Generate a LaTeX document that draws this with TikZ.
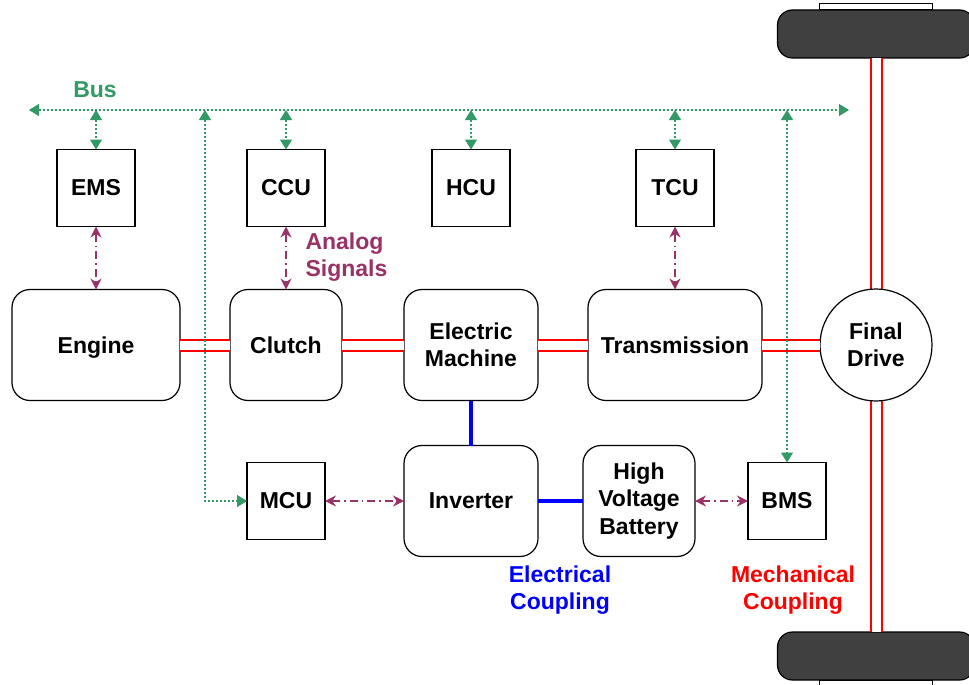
\documentclass[tikz,border=0pt]{standalone}
\usepackage{fontspec}
\setmainfont{Liberation Sans}
\usepackage{xcolor}
\usepackage{tikz}
\usetikzlibrary{positioning, arrows.meta}

\definecolor{busgreen}{RGB}{51,153,102}
\definecolor{signalpurple}{RGB}{153,51,102}
\definecolor{tyregray}{RGB}{64,64,64}

\begin{document}
\begin{tikzpicture}[
    x=1pt, y=-1pt,
    font=\fontsize{23}{27.5}\selectfont\bfseries,
    unit/.style={
        draw,
        line width=1.2pt,
        rounded corners=18pt,
        align=center,
        minimum height=111pt,
        inner sep=0pt,
        outer sep=0pt
    },
    ecu/.style={
        draw,
        line width=1.2pt,
        minimum width=78pt,
        minimum height=77pt,
        inner sep=0pt,
        outer sep=0pt
    },
    drive/.style={
        draw,
        circle,
        fill=white,
        line width=1.2pt,
        minimum size=112pt,
        inner sep=0pt,
        outer sep=0pt,
        align=center
    },
    tyre/.style={
        draw,
        line width=1.2pt,
        fill=tyregray,
        rounded corners=15pt,
        minimum width=197pt,
        minimum height=48pt,
        outer sep=0pt
    },
    rim/.style={
        draw,
        line width=1pt,
        fill=white,
        minimum width=113pt,
        minimum height=6pt,
        inner sep=0pt,
        outer sep=0pt
    },
    shaft/.style={
        draw=red,
        line width=2pt,
        double=white,
        double distance=9pt
    },
    elec/.style={
        draw=blue,
        line width=4pt
    },
    bus/.style={
        busgreen,
        line width=1.3pt,
        dash pattern=on 2pt off 2pt,
        {Triangle[length=10pt,width=12pt]}-{Triangle[length=10pt,width=12pt]}
    },
    analog/.style={
        signalpurple,
        line width=1.2pt,
        dash pattern=on 8pt off 4pt on 1.5pt off 4pt,
        {Stealth[length=11pt,width=11pt]}-{Stealth[length=11pt,width=11pt]}
    }
]
\useasboundingbox (0,0) rectangle (969,685);

% Powertrain row
\node[unit, minimum width=168pt, text depth=0pt] (engine) at (96,345) {Engine};
\node[unit, minimum width=112pt, right=50pt of engine] (clutch) {Clutch};
\node[unit, minimum width=134pt, right=62pt of clutch] (machine) {Electric\\Machine};
\node[unit, minimum width=174pt, right=50pt of machine] (transmission) {Transmission};

% Control units
\node[ecu, above=63pt of engine] (ems) {EMS};
\node[ecu, above=63pt of clutch] (ccu) {CCU};
\node[ecu, above=63pt of machine] (hcu) {HCU};
\node[ecu, above=63pt of transmission] (tcu) {TCU};

% Electrical branch
\node[unit, minimum width=134pt, below=45pt of machine] (inverter) {Inverter};
\node[unit, minimum width=112pt, right=45pt of inverter] (battery) {High\\Voltage\\Battery};
\node[ecu, left=79pt of inverter] (mcu) {MCU};
\node[ecu, right=53pt of battery] (bms) {BMS};

% Wheels
\node[rim] (rimT) at (876,7) {};
\node[tyre, below=0pt of rimT] (tyreT) {};
\node[tyre] (tyreB) at (876,656) {};
\node[rim, below=0pt of tyreB] (rimB) {};
\draw[shaft] (tyreT.south) -- (tyreB.north);

% Final drive
\node[drive, right=58pt of transmission] (final) {Final\\Drive};

% Mechanical coupling
\draw[shaft] (engine) -- (clutch);
\draw[shaft] (clutch) -- (machine);
\draw[shaft] (machine) -- (transmission);
\draw[shaft] (transmission) -- (final);

% Electrical coupling
\draw[elec] (machine) -- (inverter);
\draw[elec] (inverter) -- (battery);

% Analog signals
\draw[analog] (ems) -- (engine);
\draw[analog] (ccu) -- (clutch);
\draw[analog] (tcu) -- (transmission);
\draw[analog] (mcu) -- (inverter);
\draw[analog] (battery) -- (bms);

% Bus
\coordinate (busW) at (29,110);
\coordinate (busE) at (849,110);
\coordinate (mcutap) at (205,110);
\draw[bus] (busW) -- (busE);
\foreach \unitname in {ems, ccu, hcu, tcu}
    \draw[bus] (\unitname.north |- busW) -- (\unitname.north);
\draw[bus] (mcutap) |- (mcu.west);
\draw[bus] (bms.north |- busW) -- (bms.north);

% Labels
\node[busgreen] (buslabel) at (95,90) {Bus};
\node[signalpurple, align=left, anchor=west] (analoglabel) at (302,257) {Analog\\Signals};
\node[blue, align=center] (eleclabel) at (560,590) {Electrical\\Coupling};
\node[red, align=center] (mechlabel) at (793,590) {Mechanical\\Coupling};

\end{tikzpicture}
\end{document}
